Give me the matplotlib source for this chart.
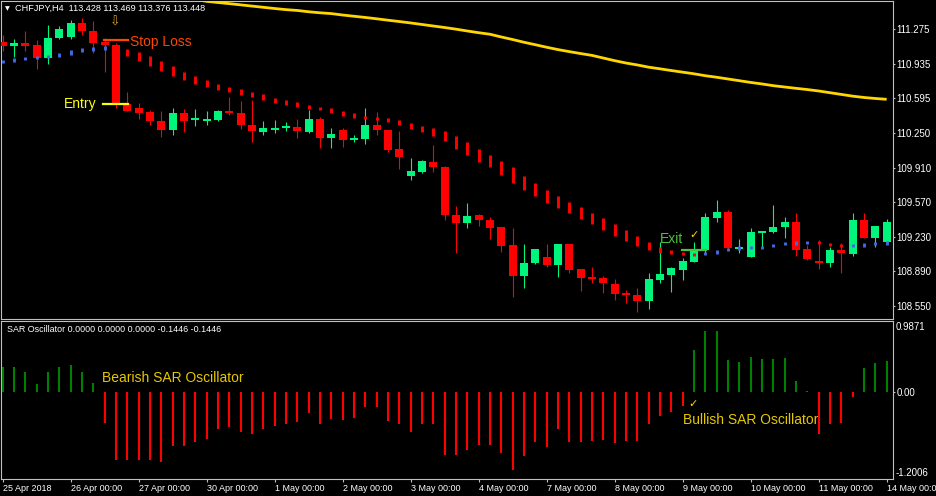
import numpy as np
import matplotlib
matplotlib.use("Agg")
import matplotlib.pyplot as plt

plt.rcParams['font.family'] = ['Liberation Sans', 'DejaVu Sans']

# ---------------- data ----------------
date_labels = ["25 Apr 2018", "26 Apr 00:00", "27 Apr 00:00", "30 Apr 00:00", "1 May 00:00",
               "2 May 00:00", "3 May 00:00", "4 May 00:00", "7 May 00:00", "8 May 00:00",
               "9 May 00:00", "10 May 00:00", "11 May 00:00", "14 May 00:00"]
bars_per_label = 6

price_ticks = [111.275, 110.935, 110.595, 110.250, 109.910, 109.570, 109.230, 108.890, 108.550]
price_tick_labels = ["111.275", "110.935", "110.595", "110.250", "109.910", "109.570",
                     "109.230", "108.890", "108.550"]

open_ = [111.150, 111.110, 111.140, 111.117, 110.992, 111.189, 111.199, 111.337, 111.258, 111.150,
         111.117, 110.537, 110.498, 110.458, 110.370, 110.284, 110.445, 110.379, 110.373, 110.376,
         110.471, 110.448, 110.330, 110.264, 110.281, 110.304, 110.311, 110.264, 110.389, 110.205,
         110.281, 110.183, 110.193, 110.330, 110.281, 110.094, 109.832, 109.868, 109.969, 109.920,
         109.445, 109.369, 109.442, 109.396, 109.324, 109.150, 108.848, 108.970, 109.029, 108.953,
         109.157, 108.911, 108.835, 108.822, 108.766, 108.678, 108.658, 108.602, 108.805, 108.855,
         108.904, 108.985, 109.101, 109.418, 109.474, 109.110, 109.035, 109.271, 109.275, 109.324,
         109.376, 109.107, 108.992, 108.970, 109.101, 109.061, 109.396, 109.222, 109.182]
high = [111.216, 111.176, 111.258, 111.167, 111.314, 111.307, 111.363, 111.380, 111.353, 111.189,
        111.140, 110.655, 110.544, 110.478, 110.468, 110.495, 110.488, 110.488, 110.468, 110.475,
        110.609, 110.566, 110.576, 110.370, 110.379, 110.357, 110.389, 110.478, 110.412, 110.304,
        110.304, 110.232, 110.500, 110.455, 110.285, 110.271, 110.003, 109.986, 110.134, 109.925,
        109.533, 109.560, 109.455, 109.422, 109.330, 109.320, 109.157, 109.115, 109.160, 109.164,
        109.164, 108.917, 108.936, 108.845, 108.812, 108.707, 108.724, 108.877, 109.179, 108.936,
        109.019, 109.182, 109.468, 109.592, 109.494, 109.206, 109.320, 109.292, 109.543, 109.428,
        109.462, 109.150, 109.199, 109.133, 109.166, 109.468, 109.468, 109.341, 109.403]
low = [111.061, 111.002, 111.058, 110.881, 110.927, 111.176, 111.176, 111.216, 111.036, 110.855,
       110.498, 110.468, 110.389, 110.330, 110.209, 110.232, 110.264, 110.323, 110.330, 110.370,
       110.429, 110.291, 110.160, 110.232, 110.249, 110.274, 110.205, 110.249, 110.101, 110.107,
       110.117, 110.160, 110.140, 110.232, 110.068, 109.897, 109.789, 109.855, 109.871, 109.396,
       109.068, 109.314, 109.337, 109.209, 109.084, 108.641, 108.730, 108.963, 108.936, 108.838,
       108.877, 108.697, 108.773, 108.675, 108.609, 108.576, 108.494, 108.520, 108.779, 108.690,
       108.805, 108.982, 109.068, 109.379, 109.101, 109.074, 109.030, 109.117, 109.272, 109.216,
       109.044, 109.007, 108.914, 108.936, 108.871, 109.044, 109.217, 109.133, 109.177]
close = [111.110, 111.140, 111.110, 110.992, 111.189, 111.275, 111.337, 111.255, 111.140, 111.117,
         110.537, 110.471, 110.451, 110.370, 110.284, 110.445, 110.370, 110.396, 110.389, 110.471,
         110.448, 110.330, 110.271, 110.304, 110.304, 110.314, 110.271, 110.389, 110.205, 110.242,
         110.183, 110.205, 110.330, 110.281, 110.084, 110.018, 109.878, 109.976, 109.920, 109.445,
         109.369, 109.435, 109.396, 109.320, 109.143, 108.848, 108.970, 109.107, 108.953, 109.157,
         108.904, 108.828, 108.815, 108.773, 108.671, 108.655, 108.602, 108.815, 108.864, 108.921,
         108.995, 109.101, 109.428, 109.474, 109.123, 109.133, 109.275, 109.287, 109.327, 109.376,
         109.101, 109.012, 108.970, 109.101, 109.068, 109.396, 109.222, 109.337, 109.376]

# Parabolic SAR values and side (b = below / bullish, r = above / bearish)
sar_values = [110.957, 110.970, 110.983, 110.996, 111.007, 111.022, 111.044, 111.066, 111.078, 111.088,
              111.070, 111.046, 111.004, 110.957, 110.908, 110.859, 110.812, 110.773, 110.741, 110.704,
              110.684, 110.655, 110.632, 110.603, 110.574, 110.552, 110.530, 110.507, 110.493, 110.470,
              110.446, 110.424, 110.406, 110.396, 110.381, 110.355, 110.323, 110.294, 110.261, 110.222,
              110.158, 110.099, 110.032, 109.976, 109.912, 109.838, 109.760, 109.696, 109.629, 109.573,
              109.517, 109.465, 109.408, 109.356, 109.297, 109.243, 109.189, 109.140, 109.105, 109.081,
              109.063, 109.054, 109.063, 109.084, 109.105, 109.120, 109.122, 109.127, 109.147, 109.162,
              109.169, 109.177, 109.171, 109.158, 109.145, 109.145, 109.150, 109.166, 109.169]
sar_side = "b" * 10 + "r" * 52 + "b" * 10 + "r" * 3 + "b" * 4

# Moving average (values before bar 17 lie above the visible range)
ma_values = [None] * 17 + [
    111.565, 111.547, 111.535, 111.524, 111.512, 111.500, 111.488, 111.476, 111.465, 111.457,
    111.444, 111.434, 111.426, 111.412, 111.400, 111.388, 111.375, 111.361, 111.348, 111.334,
    111.319, 111.304, 111.289, 111.273, 111.255, 111.238, 111.223, 111.196, 111.171, 111.144,
    111.120, 111.095, 111.072, 111.052, 111.033, 111.015, 110.989, 110.963, 110.940, 110.921,
    110.899, 110.883, 110.866, 110.850, 110.834, 110.815, 110.800, 110.783, 110.766, 110.749,
    110.734, 110.717, 110.704, 110.691, 110.679, 110.665, 110.648, 110.631, 110.614, 110.601,
    110.591, 110.583]

osc_values = [0.357, 0.349, 0.280, 0.118, 0.280, 0.357, 0.381, 0.280, 0.127, -0.427,
              -0.944, -0.944, -0.935, -0.944, -0.967, -0.750, -0.750, -0.690, -0.644, -0.510,
              -0.487, -0.552, -0.575, -0.505, -0.460, -0.436, -0.413, -0.280, -0.436, -0.371,
              -0.381, -0.357, -0.197, -0.205, -0.404, -0.436, -0.552, -0.436, -0.436, -0.866,
              -0.875, -0.800, -0.727, -0.736, -0.842, -1.073, -0.889, -0.695, -0.764, -0.510,
              -0.690, -0.695, -0.672, -0.658, -0.704, -0.681, -0.681, -0.436, -0.335, -0.266,
              -0.187, 0.589, 0.852, 0.852, 0.450, 0.413, 0.482, 0.459, 0.459, 0.473,
              0.150, 0.020, -0.579, -0.440, -0.427, -0.066, 0.343, 0.404, 0.436]
osc_max, osc_min = 0.9871, -1.2006

title_main = "CHFJPY,H4  113.428 113.469 113.376 113.448"
title_osc = "SAR Oscillator 0.0000 0.0000 0.0000 -0.1446 -0.1446"

# ---------------- styles ----------------
BULL = '#00F57C'
BEAR = '#FF0000'
SAR_BLUE = '#4169E1'
MA_COL = '#FFD700'
GRID = '#C0C0C0'
GOLD_TXT = '#E6C800'
EXIT_COL = '#4CC23C'

W, H = 936, 496
fig = plt.figure(figsize=(W / 100, H / 100), dpi=100, facecolor='black')


def px_rect(x0, y0, x1, y1):
    return [x0 / W, 1 - y1 / H, (x1 - x0) / W, (y1 - y0) / H]


ax = fig.add_axes(px_rect(1, 1, 893, 318.5))
axo = fig.add_axes(px_rect(1, 321, 893, 479))

n = len(open_)
idx = np.arange(n)
o = np.array(open_); h = np.array(high); l = np.array(low); c = np.array(close)

for a in (ax, axo):
    a.set_facecolor('black')
    a.set_xlim(-0.15, 78.56)
    for s in a.spines.values():
        s.set_color(GRID)
        s.set_linewidth(0.8)

ax.set_ylim(108.427, 111.550)

# candles
cols = np.where(c >= o, BULL, BEAR)
ax.vlines(idx, l, h, colors=cols, lw=0.8, zorder=2)
body_lo = np.minimum(o, c)
body_h = np.maximum(np.abs(c - o), 0.018)
ax.bar(idx, body_h, bottom=body_lo, width=0.7, color=cols, linewidth=0, zorder=3)

# SAR dashes
sar = np.array(sar_values)
lo, hi, scol = [], [], []
for i in range(n):
    p = sar[i - 1] if (i > 0 and sar_side[i - 1] == sar_side[i]) else sar[i]
    q = sar[i + 1] if (i < n - 1 and sar_side[i + 1] == sar_side[i]) else sar[i]
    half = max(abs(q - p) / 2, 0.016)
    lo.append(sar[i] - half); hi.append(sar[i] + half)
    scol.append(SAR_BLUE if sar_side[i] == 'b' else BEAR)
ax.vlines(idx, lo, hi, colors=scol, lw=2.1, zorder=4)

# moving average
ma = np.array([np.nan if v is None else v for v in ma_values], dtype=float)
ax.plot(idx, ma, color=MA_COL, lw=2.0, zorder=5, solid_capstyle='butt')

# annotations on the price panel
ax.plot([8.95, 11.05], [111.169, 111.169], color='#FF4500', lw=1.6, zorder=6)
ax.text(11.235, 111.110, 'Stop Loss', color='#FF4500', fontsize=10, va='baseline', ha='left', zorder=7)
ax.plot([8.88, 11.03], [110.534, 110.534], color='#FFFF00', lw=1.6, zorder=6)
ax.text(8.32, 110.495, 'Entry', color='#FFFF00', fontsize=10, va='baseline', ha='right', zorder=7)
ax.text(9.88, 111.339, '\u21e9', color='#DAA520', fontsize=9, ha='center', va='center',
        family='DejaVu Sans', zorder=7)
ax.plot([59.9, 62.07], [109.096, 109.096], color=EXIT_COL, lw=1.6, zorder=6)
ax.text(58.0, 109.166, 'Exit', color=EXIT_COL, fontsize=10, va='baseline', ha='left', zorder=7)
ax.text(60.97, 109.248, '\u2713', color='#FFD700', fontsize=8, ha='center', va='center',
        family='DejaVu Sans', fontweight='bold', zorder=7)

# price axis
ax.yaxis.tick_right()
ax.set_yticks(price_ticks)
ax.set_yticklabels(price_tick_labels)
ax.tick_params(axis='y', colors=GRID, labelcolor='white', length=1.6, width=0.8, pad=1, labelsize=7)
ax.set_xticks([])

# oscillator
osc = np.array(osc_values)
ocol = np.where(osc >= 0, '#008000', BEAR)
axo.vlines(idx, 0, osc, colors=ocol, lw=1.5, zorder=3)
axo.set_ylim(osc_min, osc_max)
axo.text(8.74, 0.136, 'Bearish SAR Oscillator', color=GOLD_TXT, fontsize=10, va='baseline', zorder=1)
axo.text(60.07, -0.440, 'Bullish SAR Oscillator', color=GOLD_TXT, fontsize=10, va='baseline', zorder=1)
axo.text(60.95, -0.163, '\u2713', color='#FFD700', fontsize=8, ha='center', va='center',
         family='DejaVu Sans', fontweight='bold', zorder=4)

axo.yaxis.tick_right()
axo.set_yticks([0])
axo.set_yticklabels(['0.00'])
axo.tick_params(axis='y', colors=GRID, labelcolor='white', length=1.6, width=0.8, pad=1, labelsize=7)
axo.set_xticks(idx[::bars_per_label])
axo.set_xticklabels(date_labels, ha='left')
axo.tick_params(axis='x', colors=GRID, labelcolor='white', length=2.4, width=0.8, pad=1, labelsize=6.5)

fig.text(896 / W, 1 - 327 / H, f"{osc_max:.4f}", color='white', fontsize=7, va='center', ha='left')
fig.text(896 / W, 1 - 473 / H, f"{osc_min:.4f}", color='white', fontsize=7, va='center', ha='left')

# titles
fig.text(7 / W, 1 - 8.5 / H, '\u25bc', color='white', fontsize=4.5, va='center', ha='center',
         family='DejaVu Sans')
fig.text(15 / W, 1 - 8.3 / H, title_main, color='white', fontsize=6.6, va='center', ha='left')
fig.text(7 / W, 1 - 329 / H, title_osc, color='white', fontsize=6.4, va='center', ha='left')

fig.savefig('out.png', dpi=100, facecolor='black')
